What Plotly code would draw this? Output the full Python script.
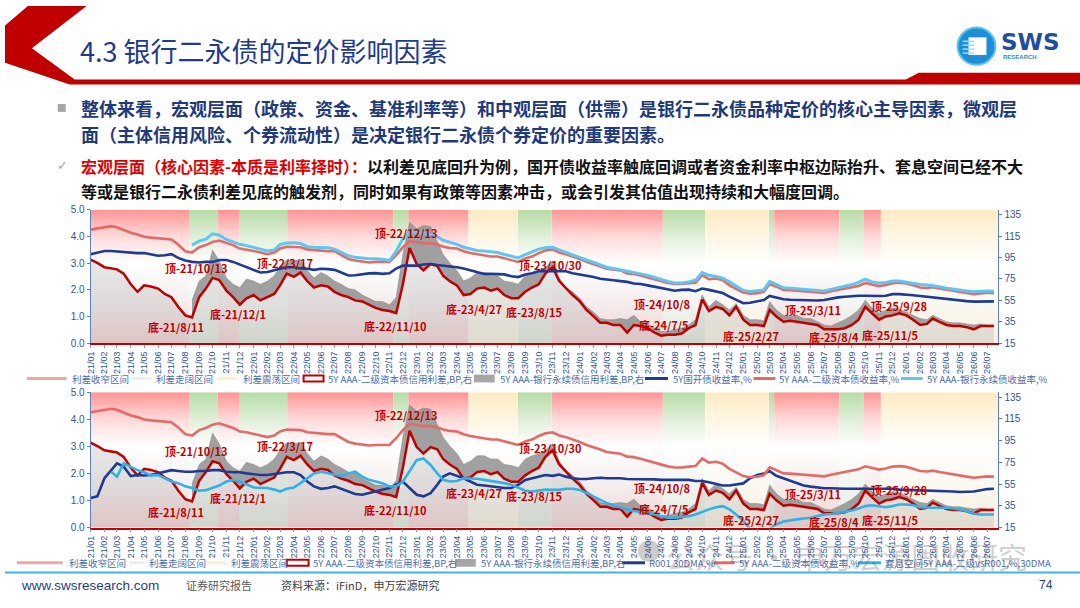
import plotly.graph_objects as go

W, H = 1080, 608
CJK = "Noto Sans CJK SC"
LAT = "Liberation Sans"

# ---- data -------------------------------------------------------------
# semi-monthly observations (1st and 16th), 2021-01 .. 2026-07
dates = [f"{y}-{m:02d}-{d:02d}" for y in range(2021, 2027) for m in range(1, 13)
         for d in (1, 16) if not (y == 2026 and m > 7)]

# 5Y AAA 二级资本债信用利差, BP (right axis)
t2_spread = [
    93, 90, 86, 85, 84, 80, 70, 63, 69, 68, 66, 61, 58, 49, 41, 39, 58, 66, 76, 74, 64, 58, 51, 57,
    60, 55, 58, 61, 69, 80, 77, 81, 73, 67, 69, 68, 63, 60, 58, 55, 54, 51, 48, 46, 45, 43, 70, 104,
    89, 83, 89, 87, 78, 73, 69, 60, 61, 66, 67, 64, 66, 60, 57, 57, 63, 67, 70, 80, 86, 73, 66, 60,
    54, 46, 40, 34, 34, 32, 32, 25, 32, 31, 29, 25, 22, 23, 23, 24, 29, 32, 56, 45, 49, 47, 41, 49,
    37, 32, 32, 31, 46, 40, 35, 36, 35, 34, 33, 32, 28, 28, 28, 29, 32, 37, 49, 43, 37, 40, 41, 43,
    41, 37, 32, 33, 38, 35, 32, 31, 31, 30, 28, 31, 31, 31,
]
# 5Y AAA 银行永续债信用利差, BP (right axis)
perp_spread = [None] * 15 + [
    55, 73, 78, 102, 92, 76, 70, 67, 75,
    73, 70, 73, 78, 86, 93, 92, 93, 83, 76, 81, 78, 73, 70, 66, 65, 60, 57, 54, 54, 51, 58, 98, 128,
    122, 125, 124, 110, 98, 90, 83, 73, 76, 81, 81, 78, 78, 73, 72, 70, 78, 81, 83, 86, 92, 76, 67, 63,
    57, 49, 44, 38, 37, 37, 38, 37, 41, 35, 33, 29, 26, 26, 28, 29, 32, 37, 60, 49, 55, 51, 46, 52,
    41, 37, 37, 36, 54, 46, 41, 40, 41, 38, 38, 35, 32, 31, 34, 37, 41, 46, 55, 48, 43, 46, 48, 47,
    44, 41, 38, 37, 41, 38, 35, 34, 34, 33, 32, 33, 32, 32,
]
# 5Y 国开债收益率, %
cdb_yield = [
    3.34, 3.40, 3.46, 3.46, 3.44, 3.42, 3.40, 3.38, 3.38, 3.33, 3.28, 3.30, 3.34, 3.20, 3.10, 3.05, 3.03, 3.05, 3.05, 3.12, 3.12, 3.05, 2.95, 2.85,
    2.73, 2.65, 2.67, 2.72, 2.79, 2.85, 2.85, 2.80, 2.79, 2.75, 2.79, 2.78, 2.75, 2.65, 2.54, 2.55, 2.60, 2.62, 2.63, 2.60, 2.62, 2.80, 2.91, 2.90,
    2.91, 2.95, 2.97, 2.93, 2.91, 2.88, 2.85, 2.80, 2.73, 2.65, 2.60, 2.60, 2.58, 2.58, 2.51, 2.48, 2.58, 2.62, 2.70, 2.70, 2.72, 2.70, 2.70, 2.62,
    2.58, 2.52, 2.48, 2.42, 2.38, 2.36, 2.33, 2.30, 2.24, 2.22, 2.17, 2.12, 2.09, 2.03, 1.97, 2.00, 2.01, 1.95, 2.05, 2.00, 1.93, 1.88, 1.75, 1.62,
    1.50, 1.52, 1.56, 1.62, 1.77, 1.72, 1.65, 1.63, 1.62, 1.60, 1.60, 1.60, 1.62, 1.68, 1.72, 1.74, 1.77, 1.78, 1.78, 1.77, 1.77, 1.78, 1.84, 1.84,
    1.83, 1.80, 1.77, 1.74, 1.72, 1.70, 1.68, 1.65, 1.62, 1.58, 1.56, 1.56, 1.58, 1.57,
]
# 5Y AAA 二级资本债收益率, %
t2_yield = [
    4.26, 4.30, 4.36, 4.39, 4.35, 4.25, 4.14, 4.08, 3.99, 3.96, 3.93, 3.90, 3.89, 3.70, 3.45, 3.40, 3.60, 3.68, 3.80, 3.85, 3.75, 3.68, 3.55, 3.52,
    3.46, 3.40, 3.34, 3.40, 3.55, 3.62, 3.62, 3.60, 3.52, 3.49, 3.47, 3.45, 3.45, 3.32, 3.16, 3.10, 3.05, 3.03, 3.05, 3.05, 3.05, 3.30, 3.60, 3.83,
    3.78, 3.75, 3.75, 3.70, 3.62, 3.57, 3.55, 3.45, 3.38, 3.33, 3.28, 3.25, 3.25, 3.18, 3.10, 3.05, 3.18, 3.25, 3.38, 3.48, 3.52, 3.40, 3.34, 3.26,
    3.16, 3.05, 2.97, 2.88, 2.79, 2.76, 2.73, 2.62, 2.60, 2.54, 2.47, 2.40, 2.32, 2.26, 2.22, 2.22, 2.25, 2.27, 2.55, 2.40, 2.43, 2.36, 2.17, 2.05,
    1.90, 1.86, 1.88, 1.93, 2.22, 2.12, 2.00, 1.99, 1.97, 1.94, 1.93, 1.92, 1.89, 1.95, 2.00, 2.03, 2.09, 2.15, 2.26, 2.20, 2.14, 2.18, 2.25, 2.27,
    2.24, 2.17, 2.09, 2.07, 2.10, 2.05, 2.00, 1.96, 1.93, 1.88, 1.84, 1.87, 1.89, 1.88,
]
# 5Y AAA 银行永续债收益率, %
perp_yield = [None] * 15 + [
    3.68, 3.83, 3.90, 4.10, 4.05, 3.89, 3.80, 3.71, 3.66,
    3.59, 3.52, 3.46, 3.50, 3.70, 3.76, 3.77, 3.74, 3.62, 3.60, 3.60, 3.58, 3.53, 3.42, 3.28, 3.22, 3.19, 3.17, 3.17, 3.15, 3.10, 3.45, 3.92, 4.15,
    4.14, 4.14, 4.08, 4.00, 3.86, 3.78, 3.71, 3.60, 3.53, 3.48, 3.46, 3.43, 3.40, 3.33, 3.25, 3.20, 3.32, 3.42, 3.53, 3.58, 3.60, 3.50, 3.40, 3.32,
    3.22, 3.12, 3.03, 2.94, 2.85, 2.80, 2.75, 2.72, 2.67, 2.60, 2.54, 2.46, 2.38, 2.32, 2.26, 2.26, 2.30, 2.36, 2.65, 2.55, 2.50, 2.44, 2.30, 2.15,
    1.98, 1.94, 1.96, 2.00, 2.32, 2.20, 2.08, 2.06, 2.04, 2.02, 2.00, 1.99, 1.96, 2.02, 2.08, 2.12, 2.20, 2.28, 2.40, 2.30, 2.26, 2.28, 2.33, 2.33,
    2.28, 2.25, 2.20, 2.18, 2.16, 2.12, 2.06, 2.02, 1.99, 1.96, 1.93, 1.95, 1.96, 1.95,
]
# R001 30DMA, %
r001_30dma = [
    1.09, 1.15, 1.82, 2.12, 2.37, 2.25, 1.90, 1.94, 1.92, 1.94, 2.00, 2.06, 2.12, 2.09, 2.06, 2.06, 2.09, 2.09, 2.12, 2.12, 2.06, 2.04, 2.04, 2.00,
    1.97, 1.94, 1.94, 1.97, 2.00, 2.04, 2.04, 1.94, 1.70, 1.52, 1.43, 1.46, 1.52, 1.43, 1.33, 1.24, 1.21, 1.27, 1.33, 1.40, 1.46, 1.58, 1.70, 1.46,
    1.21, 1.15, 1.27, 1.58, 1.88, 2.00, 1.92, 1.82, 1.70, 1.58, 1.55, 1.52, 1.48, 1.46, 1.46, 1.58, 1.76, 1.82, 1.88, 1.94, 1.91, 1.96, 1.88, 1.82,
    1.79, 1.79, 1.82, 1.84, 1.82, 1.82, 1.82, 1.79, 1.79, 1.78, 1.79, 1.78, 1.76, 1.76, 1.76, 1.76, 1.76, 1.72, 1.72, 1.67, 1.60, 1.55, 1.55, 1.60,
    1.63, 1.82, 1.94, 2.00, 2.08, 1.91, 1.82, 1.72, 1.63, 1.55, 1.51, 1.48, 1.45, 1.45, 1.43, 1.43, 1.43, 1.43, 1.43, 1.43, 1.43, 1.43, 1.43, 1.40,
    1.39, 1.39, 1.39, 1.38, 1.37, 1.36, 1.36, 1.33, 1.31, 1.31, 1.33, 1.38, 1.42, 1.43,
]
# 套息空间 5Y AAA 二级 vs R001, %, 30DMA
carry_space = [None] * 3 + [
    2.06, 1.88, 2.37, 2.25, 2.12, 2.04, 1.92, 1.94, 1.82, 1.70, 1.64, 1.52, 1.46, 1.36, 1.38, 1.46, 1.55, 1.70, 1.76, 1.70, 1.58,
    1.48, 1.47, 1.46, 1.40, 1.33, 1.43, 1.48, 1.64, 1.82, 2.00, 2.06, 2.00, 1.94, 1.90, 2.00, 2.06, 1.88, 1.76, 1.70, 1.64, 1.52, 1.52, 1.70, 2.06,
    2.49, 2.55, 2.31, 2.00, 1.76, 1.70, 1.72, 1.82, 1.82, 1.80, 1.76, 1.72, 1.70, 1.64, 1.58, 1.46, 1.36, 1.33, 1.36, 1.40, 1.39, 1.39, 1.43, 1.43,
    1.39, 1.27, 1.15, 1.03, 0.91, 0.82, 0.73, 0.67, 0.61, 0.58, 0.54, 0.48, 0.42, 0.36, 0.36, 0.39, 0.42, 0.48, 0.58, 0.67, 0.75, 0.79, 0.67, 0.48,
    0.24, -0.05, -0.25, -0.30, -0.05, 0.12, 0.22, 0.27, 0.30, 0.33, 0.36, 0.42, 0.48, 0.50, 0.54, 0.58, 0.63, 0.70, 0.79, 0.82, 0.79, 0.75, 0.79, 0.85,
    0.85, 0.82, 0.75, 0.73, 0.73, 0.73, 0.73, 0.70, 0.67, 0.61, 0.51, 0.48, 0.48, 0.48,
]

# spread regimes: 收窄 / 走阔 / 震荡
band_edges = ["2021-01-01", "2021-08-11", "2021-10-13", "2021-12-01", "2022-03-17", "2022-11-10",
              "2022-12-13", "2023-04-27", "2023-08-15", "2023-10-30", "2024-07-05", "2024-10-08",
              "2025-02-27", "2025-03-11", "2025-08-04", "2025-09-28", "2025-11-05", "2026-07-26"]
band_kind = ["收窄", "走阔", "收窄", "走阔", "收窄", "走阔", "收窄", "震荡", "走阔",
             "收窄", "走阔", "震荡", "走阔", "收窄", "走阔", "收窄", "震荡"]

# turning point labels
turn_labels = ["顶-21/10/13", "顶-22/3/17", "底-21/8/11", "底-21/12/1", "顶-22/12/13", "底-22/11/10",
               "底-23/4/27", "底-23/8/15", "顶-23/10/30", "顶-24/10/8", "底-24/7/5", "底-25/2/27",
               "顶-25/3/11", "底-25/8/4", "顶-25/9/28", "底-25/11/5"]
turn_x = ["2021-08-26", "2022-03-12", "2021-07-12", "2021-11-26", "2022-12-10", "2022-11-15",
          "2023-05-09", "2023-09-21", "2023-10-27", "2024-07-04", "2024-07-07", "2025-01-18",
          "2025-06-06", "2025-07-23", "2025-12-15", "2025-11-26"]
turn_y = [2.83, 3.01, 0.59, 1.10, 4.15, 0.66, 1.29, 1.18, 2.94, 1.47, 0.70, 0.26, 1.25, 0.22, 1.40, 0.29]

left_ticks = [0, 1, 2, 3, 4, 5]
right_ticks = [15, 35, 55, 75, 95, 115, 135]

# ---- styles -----------------------------------------------------------
RED = "#C00000"
NAVY = "#1F3A93"
SALMON = "#E46A6A"
SKY = "#5CC8F2"
SKY2 = "#2EB2EA"
TICK = "#2F5597"
LEG = "#4A6DB0"
X_RANGE = ["2021-01-01", "2026-07-26"]
R_RANGE = [15, 139.5]

band_scales = {
    "收窄": [[0, "#F2D2D2"], [0.3, "#F5EDED"], [0.6, "#FFFFFF"], [0.8, "#FFDADA"], [1, "#FF9494"]],
    "走阔": [[0, "#E0E8DC"], [0.3, "#F2F5F1"], [0.6, "#FFFFFF"], [0.8, "#E0EFD9"], [1, "#B7DBA7"]],
    "震荡": [[0, "#F6EFDF"], [0.3, "#FBF8F0"], [0.6, "#FFFFFF"], [0.8, "#FFF6E3"], [1, "#FFEBC4"]],
}


def px(x):
    return x / W


def py(y):
    return 1 - y / H


fig = go.Figure()


def band_trace(kind, xa, ya):
    xs, ys = [], []
    for i, k in enumerate(band_kind):
        if k != kind:
            continue
        s, e = band_edges[i], band_edges[i + 1]
        xs += [s, e, e, s, s, None]
        ys += [R_RANGE[0], R_RANGE[0], R_RANGE[1], R_RANGE[1], R_RANGE[0], None]
    return go.Scatter(x=xs, y=ys, xaxis=xa, yaxis=ya, mode="lines", fill="toself",
                      line=dict(width=0), fillgradient=dict(type="vertical", colorscale=band_scales[kind]),
                      hoverinfo="skip", showlegend=False)


def add_panel(xa, ya_r, ya_l, left_lines):
    for kind in ("收窄", "走阔", "震荡"):
        fig.add_trace(band_trace(kind, xa, ya_r))
    # light area under the tier-2 spread
    fig.add_trace(go.Scatter(x=dates, y=t2_spread, xaxis=xa, yaxis=ya_r, mode="lines",
                             line=dict(width=0), fill="tozeroy", fillcolor="rgba(150,150,150,0.22)",
                             hoverinfo="skip", showlegend=False))
    k = next(i for i, v in enumerate(perp_spread) if v is not None)
    fig.add_trace(go.Scatter(x=dates[k:], y=t2_spread[k:], xaxis=xa, yaxis=ya_r, mode="lines",
                             line=dict(width=0), hoverinfo="skip", showlegend=False))
    fig.add_trace(go.Scatter(x=dates[k:], y=perp_spread[k:], xaxis=xa, yaxis=ya_r, mode="lines",
                             line=dict(width=0.6, color="rgba(140,140,140,0.9)"), fill="tonexty",
                             fillcolor="rgba(145,145,145,0.85)", hoverinfo="skip", showlegend=False))
    fig.add_trace(go.Scatter(x=dates, y=t2_spread, xaxis=xa, yaxis=ya_r, mode="lines",
                             line=dict(color=RED, width=2.5), hoverinfo="skip", showlegend=False))
    for vals, color, width in left_lines:
        fig.add_trace(go.Scatter(x=dates, y=vals, xaxis=xa, yaxis=ya_l, mode="lines",
                                 line=dict(color=color, width=width), hoverinfo="skip", showlegend=False))


add_panel("x", "y", "y2", [(cdb_yield, NAVY, 2.6), (t2_yield, SALMON, 2.6), (perp_yield, SKY, 3)])
add_panel("x2", "y3", "y4", [(r001_30dma, NAVY, 2.6), (t2_yield, SALMON, 2.6), (carry_space, SKY2, 2.6)])

# ---- axes ---------------------------------------------------------------
x_dom = [px(86), px(998)]
top_dom = [py(344), py(208)]
bot_dom = [py(532), py(394)]

xstyle = dict(type="date", range=X_RANGE, dtick="M1", tick0="2021-01-01", tickformat="%y/%m",
              tickangle=-90, tickfont=dict(size=9, color=TICK, family=LAT), ticks="outside",
              ticklen=3, tickcolor="#7F9CD0", showline=True, linecolor=RED, linewidth=1.5,
              showgrid=False, zeroline=False, domain=x_dom)
rstyle = dict(range=R_RANGE, tickvals=right_ticks, side="right", showline=True, linecolor="#5B7FC7",
              linewidth=1, ticks="outside", ticklen=3, tickcolor="#5B7FC7", showgrid=False,
              zeroline=False, tickfont=dict(size=10, color=TICK, family=LAT))
lstyle = dict(range=[0, 5], tickvals=left_ticks, tickformat=".1f", side="left", showline=True,
              linecolor="#5B7FC7", linewidth=1, ticks="outside", ticklen=3, tickcolor="#5B7FC7",
              showgrid=False, zeroline=False, tickfont=dict(size=10, color=TICK, family=LAT))

fig.update_layout(
    xaxis=dict(xstyle, anchor="y"),
    xaxis2=dict(xstyle, anchor="y3"),
    yaxis=dict(rstyle, domain=top_dom, anchor="x"),
    yaxis2=dict(lstyle, overlaying="y", anchor="x"),
    yaxis3=dict(rstyle, domain=bot_dom, anchor="x2"),
    yaxis4=dict(lstyle, overlaying="y3", anchor="x2"),
)

# ---- annotations & decorations -----------------------------------------
annotations = []
shapes = []

# turning-point labels on both panels
for xr, yr in (("x", "y2"), ("x2", "y4")):
    for lab, xv, yv in zip(turn_labels, turn_x, turn_y):
        annotations.append(dict(x=xv, y=yv, xref=xr, yref=yr, text=f"<b>{lab}</b>", showarrow=False,
                                font=dict(size=11, color=RED, family=CJK)))

# header chevron and band
hdr = [(23, 0), (82, 0), (27, 43), (70, 75), (905, 75), (918, 68), (1080, 68), (1080, 80),
       (65, 80), (0, 58), (0, 20)]
path = "M" + " L".join(f"{px(a):.4f},{py(b):.4f}" for a, b in hdr) + " Z"
shapes.append(dict(type="path", path=path, xref="paper", yref="paper", fillcolor=RED, line=dict(width=0)))
annotations.append(dict(x=px(73), y=py(45), xref="paper", yref="paper", xanchor="left", yanchor="middle",
                        text="4.3 银行二永债的定价影响因素", showarrow=False,
                        font=dict(size=27, color="#1F3A8F", family=CJK)))

# logo
shapes.append(dict(type="circle", xref="paper", yref="paper", x0=px(957), x1=px(995), y0=py(60), y1=py(22),
                   fillcolor="#1E8FD6", line=dict(color="#5CC3EF", width=2)))
shapes.append(dict(type="rect", xref="paper", yref="paper", x0=px(968), x1=px(986), y0=py(50), y1=py(32),
                   fillcolor="white", line=dict(width=0)))
for yy in (36, 40, 44, 48):
    shapes.append(dict(type="line", xref="paper", yref="paper", x0=px(962), x1=px(974), y0=py(yy), y1=py(yy),
                       line=dict(color="#9FDDF7", width=1.5)))
annotations.append(dict(x=px(999), y=py(37), xref="paper", yref="paper", xanchor="left", yanchor="middle",
                        text="<b>SWS</b>", showarrow=False, font=dict(size=23, color="#1F4E9E", family="DejaVu Sans")))
annotations.append(dict(x=px(1001), y=py(52), xref="paper", yref="paper", xanchor="left", yanchor="middle",
                        text="<b>RESEARCH</b>", showarrow=False, font=dict(size=6, color="#1E8FD6", family=LAT)))

# bullet paragraphs
shapes.append(dict(type="rect", xref="paper", yref="paper", x0=px(53), x1=px(61), y0=py(108), y1=py(100),
                   fillcolor="#A6A6A6", line=dict(width=0)))
body_lines = [
    (104, 18, "<b>整体来看，宏观层面（政策、资金、基准利率等）和中观层面（供需）是银行二永债品种定价的核心主导因素，微观层</b>", "#1F3A7A"),
    (131, 18, "<b>面（主体信用风险、个券流动性）是决定银行二永债个券定价的重要因素。</b>", "#1F3A7A"),
    (163, 16, "<b><span style='color:#E00000'>宏观层面（核心因素-本质是利率择时）：</span>以利差见底回升为例，国开债收益率触底回调或者资金利率中枢边际抬升、套息空间已经不大</b>", "#111111"),
    (189, 16, "<b>等或是银行二永债利差见底的触发剂，同时如果有政策等因素冲击，或会引发其估值出现持续和大幅度回调。</b>", "#111111"),
]
for yy, sz, txt, col in body_lines:
    annotations.append(dict(x=px(74), y=py(yy), xref="paper", yref="paper", xanchor="left", yanchor="middle",
                            text=txt, showarrow=False, font=dict(size=sz, color=col, family=CJK)))
annotations.append(dict(x=px(58), y=py(163), xref="paper", yref="paper", xanchor="center", yanchor="middle",
                        text="✓", showarrow=False, font=dict(size=13, color="#A6A6A6", family="DejaVu Sans")))


# legends
def legend_row(y, items):
    for kind, x0, x1, color, text, tx in items:
        if kind == "line":
            shapes.append(dict(type="line", xref="paper", yref="paper", x0=px(x0), x1=px(x1), y0=py(y), y1=py(y),
                               line=dict(color=color, width=3)))
        elif kind == "box":
            shapes.append(dict(type="rect", xref="paper", yref="paper", x0=px(x0), x1=px(x1), y0=py(y + 3), y1=py(y - 3),
                               fillcolor="white", line=dict(color=color, width=2)))
        else:
            shapes.append(dict(type="rect", xref="paper", yref="paper", x0=px(x0), x1=px(x1), y0=py(y + 4), y1=py(y - 4),
                               fillcolor=color, line=dict(width=0)))
        annotations.append(dict(x=px(tx), y=py(y), xref="paper", yref="paper", xanchor="left", yanchor="middle",
                                text=text, showarrow=False, font=dict(size=9.5, color=LEG, family=CJK)))


legend_row(380, [
    ("line", 22, 62, "#F5A3A3", "利差收窄区间", 65),
    ("line", 127, 147, "#EDEDED", "利差走阔区间", 150),
    ("line", 213, 233, "#FFF0CC", "利差震荡区间", 237),
    ("box", 300, 320, RED, "5Y AAA-二级资本债信用利差,BP,右", 322),
    ("fill", 471, 492, "#A6A6A6", "5Y AAA-银行永续债信用利差,BP,右", 495),
    ("line", 643, 666, NAVY, "5Y国开债收益率,%", 669),
    ("line", 752, 774, SALMON, "5Y AAA-二级资本债收益率,%", 776),
    ("line", 900, 922, SKY, "5Y AAA-银行永续债收益率,%", 924),
])
legend_row(568, [
    ("line", 12, 58, "#F5A3A3", "利差收窄区间", 62),
    ("line", 125, 140, "#EDEDED", "利差走阔区间", 143),
    ("line", 203, 222, "#FFF0CC", "利差震荡区间", 225),
    ("box", 283, 305, RED, "5Y AAA-二级资本债信用利差,BP,右", 307),
    ("fill", 452, 473, "#A6A6A6", "5Y AAA-银行永续债信用利差,BP,右", 476),
    ("line", 620, 643, NAVY, "R001 30DMA,%", 645),
    ("line", 712, 733, SALMON, "5Y AAA-二级资本债收益率,%", 735),
    ("line", 857, 880, SKY2, "套息空间5Y AAA-二级vsR001,%,30DMA", 882),
])

# watermark (lies over the lower legend, as in the source slide)
shapes.append(dict(type="circle", xref="paper", yref="paper", x0=px(636), x1=px(658), y0=py(567), y1=py(545),
                   fillcolor="rgba(90,90,90,0.3)", line=dict(width=0)))
annotations.append(dict(x=px(662), y=py(561), xref="paper", yref="paper", xanchor="left", yanchor="middle",
                        text="公众号 · 申万宏源固收研究", showarrow=False,
                        font=dict(size=29, color="rgba(90,90,90,0.3)", family=CJK)))

# footer
shapes.append(dict(type="line", xref="paper", yref="paper", x0=0, x1=1, y0=py(578), y1=py(578),
                   line=dict(color="#3FB4E6", width=2)))
for tx, txt, sz, col, fam in [
    (14, "www.swsresearch.com", 13.5, "#1F3C88", LAT),
    (180, "证券研究报告", 11, "#595959", CJK),
    (275, "资料来源：iFinD，申万宏源研究", 11, "#404040", CJK),
    (1037, "74", 12, "#1F3C88", LAT),
]:
    annotations.append(dict(x=px(tx), y=py(591), xref="paper", yref="paper", xanchor="left", yanchor="middle",
                            text=txt, showarrow=False, font=dict(size=sz, color=col, family=fam)))

fig.update_layout(
    width=W, height=H,
    margin=dict(l=0, r=0, t=0, b=0),
    paper_bgcolor="white", plot_bgcolor="white",
    showlegend=False,
    annotations=annotations,
    shapes=shapes,
)

fig.write_html("out.html", config={"displayModeBar": False},
               post_script="document.body.style.margin='0';")
